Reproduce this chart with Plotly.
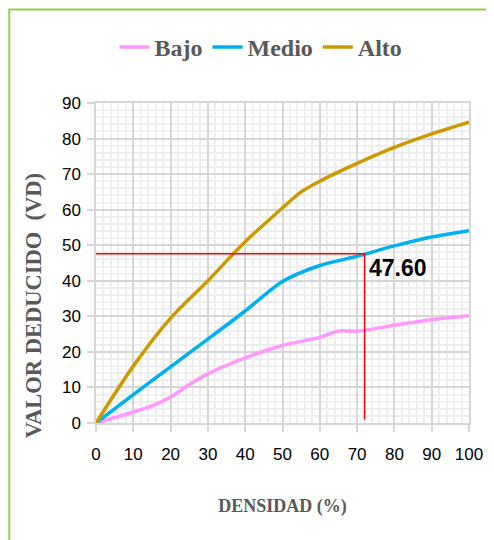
import plotly.graph_objects as go

densidad_bajo = [0, 10, 15, 20, 25, 30, 40, 50, 60, 65, 70, 80, 90, 100]
vd_bajo = [0, 3.1, 4.8, 7.3, 10.8, 13.8, 18.3, 21.8, 24.1, 25.9, 25.8, 27.5, 29.1, 30.2]

densidad_medio = [0, 10, 20, 30, 40, 50, 60, 70, 80, 90, 100]
vd_medio = [0, 8, 15.8, 23.6, 31.5, 39.8, 44.3, 46.9, 49.8, 52.3, 54.1]

densidad_alto = [0, 10, 20, 30, 40, 50, 55, 60, 70, 80, 90, 100]
vd_alto = [0, 16, 29.5, 40, 51, 60.5, 65, 68, 73, 77.5, 81.3, 84.6]

ref_x = [0, 72, 72]
ref_y = [47.6, 47.6, 1]
ref_label = "47.60"

x_ticks = list(range(0, 101, 10))
y_ticks = list(range(0, 91, 10))

serif = "Liberation Serif, Times New Roman, serif"
sans = "Liberation Sans, Arial, sans-serif"
gray_txt = "#595959"

# page body has an 8px margin: figure is drawn 8px smaller and all positions refer to screen px
PW, PH = 373.0, 320.0
def px_x(X):
    return (X - 96) / PW
def px_y(Y):
    return (422.7 - Y) / PH

fig = go.Figure()
fig.add_trace(go.Scatter(x=densidad_bajo, y=vd_bajo, name="Bajo", mode="lines",
                         line=dict(color="#ff99ff", width=3.5, shape="spline", smoothing=0.8)))
fig.add_trace(go.Scatter(x=densidad_medio, y=vd_medio, name="Medio", mode="lines",
                         line=dict(color="#00b0f0", width=3.5, shape="spline", smoothing=0.8)))
fig.add_trace(go.Scatter(x=densidad_alto, y=vd_alto, name="Alto", mode="lines",
                         line=dict(color="#cc9900", width=3.5, shape="spline", smoothing=0.8)))
fig.add_trace(go.Scatter(x=ref_x, y=ref_y, mode="lines", showlegend=False,
                         line=dict(color="#ff0000", width=1.5)))

fig.add_annotation(x=72.6, y=43.7, text=ref_label, showarrow=False, xanchor="left", yanchor="middle",
                   font=dict(family=sans, size=23, color="#000000", weight="bold"))

fig.add_annotation(xref="paper", yref="paper", x=px_x(33), y=px_y(306),
                   text="VALOR DEDUCIDO\u00a0\u00a0(VD)", textangle=-90, showarrow=False,
                   xanchor="center", yanchor="middle",
                   font=dict(family=serif, size=22.5, color=gray_txt, weight="bold"))

fig.add_shape(type="rect", xref="paper", yref="paper",
              x0=px_x(9.3), x1=1.3, y0=-0.6, y1=px_y(9.2),
              line=dict(color="#92d050", width=2), fillcolor="rgba(0,0,0,0)", layer="above")

axis_common = dict(
    showgrid=True, gridcolor="#d6d6d6", gridwidth=1.5,
    showline=True, linecolor="#d6d6d6", linewidth=1.5, mirror=True,
    ticks="outside", tickcolor="#d6d6d6", ticklen=7, tickwidth=1.5,
    zeroline=False,
    tickfont=dict(family=sans, size=17, color="#000000"),
    minor=dict(dtick=2, showgrid=True, gridcolor="#eeeeee", gridwidth=1.5, ticks=""),
)

fig.update_xaxes(range=[0, 100], tickvals=x_ticks, ticklabelstandoff=8,
                 title=dict(text="DENSIDAD (%)", standoff=36,
                            font=dict(family=serif, size=18, color=gray_txt, weight="bold")),
                 **axis_common)
fig.update_yaxes(range=[0, 90], tickvals=y_ticks, ticklabelstandoff=3, **axis_common)

fig.update_layout(
    width=486, height=532,
    margin=dict(l=88, r=25, t=95, b=117),
    plot_bgcolor="white", paper_bgcolor="white",
    showlegend=True,
    legend=dict(orientation="h", x=px_x(261), y=px_y(47), xanchor="center", yanchor="middle",
                font=dict(family=serif, size=24, color=gray_txt, weight="bold"),
                bgcolor="rgba(0,0,0,0)", tracegroupgap=0),
    hovermode=False,
)

fig.write_html("out.html")
